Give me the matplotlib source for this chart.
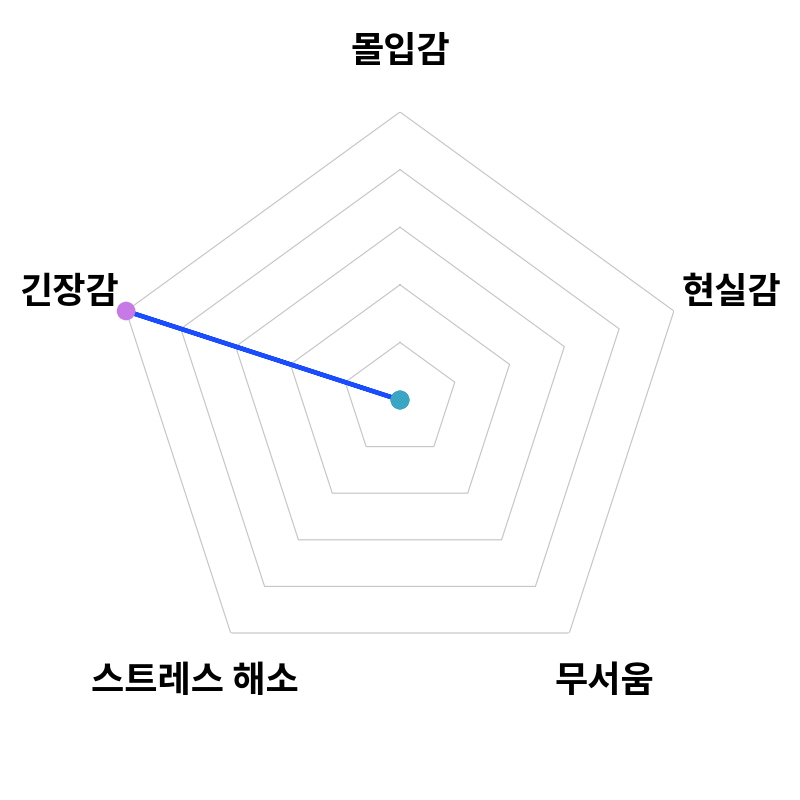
import numpy as np
import matplotlib
matplotlib.use('Agg')
import matplotlib.pyplot as plt

plt.rcParams['font.family'] = ['Noto Sans CJK KR', 'DejaVu Sans']

# radar data
categories = ['몰입감', '현실감', '무서움', '스트레스 해소', '긴장감']
values = [0, 0, 0, 0, 5]
point_colors = ['#3aa6c4', '#3aa6c4', '#3aa6c4', '#3aa6c4', '#c77ae6']
levels = [1, 2, 3, 4, 5]
max_value = 5

n = len(categories)
angles = np.linspace(0, 2 * np.pi, n, endpoint=False)

fig = plt.figure(figsize=(8, 8), dpi=100)
ax = fig.add_axes([112 / 800, 112 / 800, 576 / 800, 576 / 800], projection='polar')
ax.set_theta_offset(np.pi / 2)
ax.set_theta_direction(-1)
ax.set_ylim(0, max_value)
ax.grid(False)
ax.spines['polar'].set_visible(False)
ax.set_xticks([])
ax.set_yticks([])
ax.patch.set_alpha(0)

# pentagon rings
ring_angles = np.append(angles, angles[0])
for lv in levels:
    ax.plot(ring_angles, [lv] * (n + 1), color='#c4c4c4', lw=0.8, zorder=1)

# data line
closed_vals = values + values[:1]
ax.plot(ring_angles, closed_vals, color='#1a4dff', lw=3.2, zorder=2, clip_on=False)

# points: draw purple first so teal stays on top at the centre
order = sorted(range(n), key=lambda i: point_colors[i] == '#3aa6c4')
for i in order:
    ax.scatter(angles[i], values[i], s=180, color=point_colors[i], zorder=3,
               edgecolors='none', clip_on=False)

# labels
for ang, lab in zip(angles, categories):
    ax.text(ang, 6.05, lab, ha='center', va='center', fontsize=26,
            fontweight='heavy', color='#000000')

fig.savefig('out.png', dpi=100, facecolor='white')
